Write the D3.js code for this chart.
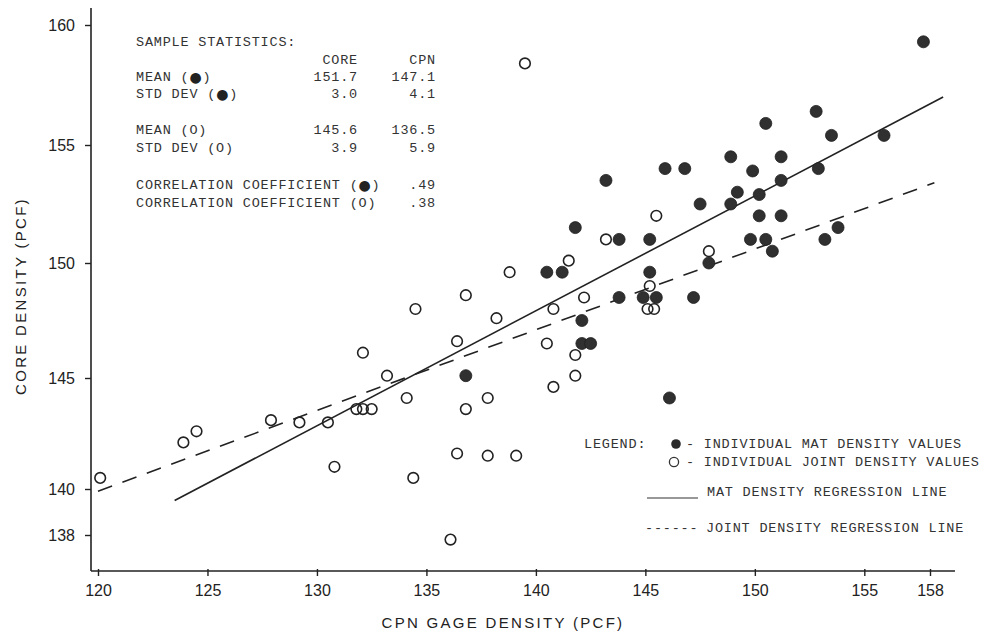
<!DOCTYPE html>
<html><head><meta charset="utf-8">
<script src="https://cdn.jsdelivr.net/npm/d3@7"></script>
<style>body{margin:0;background:#fff} svg{display:block}</style>
</head><body><svg id="c" width="982" height="634"></svg>
<script>
// ---- data ----
const xTicks = [120,125,130,135,140,145,150,155,158];
const yTicks = [138,140,145,150,155,160];
// individual mat density values [CPN, CORE]
const matPoints = [
 [157.7,159.3],[152.8,156.4],[150.5,155.9],[153.5,155.4],[155.9,155.4],
 [148.9,154.5],[151.2,154.5],[145.9,154.0],[146.8,154.0],[149.9,153.9],
 [152.9,154.0],[143.2,153.5],[151.2,153.5],[149.2,153.0],[150.2,152.9],
 [148.9,152.5],[147.5,152.5],[150.2,152.0],[151.2,152.0],[141.8,151.5],
 [143.8,151.0],[145.2,151.0],[149.8,151.0],[150.5,151.0],[153.8,151.5],
 [153.2,151.0],[150.8,150.5],[147.9,150.0],[140.5,149.6],[141.2,149.6],
 [145.2,149.6],[143.8,148.5],[144.9,148.5],[145.5,148.5],[147.2,148.5],
 [142.1,147.5],[142.1,146.5],[142.5,146.5],[136.8,145.1],[146.1,144.1]
];
// individual joint density values [CPN, CORE]
const jointPoints = [
 [120.1,140.5],[123.9,142.1],[124.5,142.6],[127.9,143.1],[129.2,143.0],
 [130.5,143.0],[130.8,141.0],[131.8,143.6],[132.1,143.6],[132.5,143.6],
 [132.1,146.1],[133.2,145.1],[134.1,144.1],[134.4,140.5],[136.1,137.8],
 [134.5,148.0],[136.4,146.6],[136.4,141.6],[136.8,148.6],[136.8,143.6],
 [137.8,144.1],[137.8,141.5],[138.2,147.6],[138.8,149.6],[139.1,141.5],
 [139.5,158.4],[140.5,146.5],[140.8,148.0],[140.8,144.6],[141.5,150.1],
 [141.8,146.0],[141.8,145.1],[142.2,148.5],[143.2,151.0],[145.2,149.0],
 [145.1,148.0],[145.4,148.0],[145.5,152.0],[147.9,150.5]
];
const matLine = [[123.5,139.5],[158.6,157.0]];
const jointLine = [[120.0,139.9],[158.2,153.4]];
const statTitle = "SAMPLE STATISTICS:";
const statColumns = ["CORE","CPN"];
const statLabels = [["MEAN (","\u25CF",")"],["STD DEV (","\u25CF",")"],["MEAN (O)"],["STD DEV (O)"]];
const statCore = ["151.7","3.0","145.6","3.9"];
const statCpn = ["147.1","4.1","136.5","5.9"];
const corrLabels = [["CORRELATION COEFFICIENT (","\u25CF",")"],["CORRELATION COEFFICIENT (O)"]];
const corrValues = [".49",".38"];
const legendItems = ["- INDIVIDUAL MAT DENSITY VALUES","- INDIVIDUAL JOINT DENSITY VALUES",
  "MAT DENSITY REGRESSION LINE","JOINT DENSITY REGRESSION LINE"];
const xTitle = "CPN GAGE DENSITY (PCF)";
const yTitle = "CORE DENSITY (PCF)";

// ---- drawing ----
const svg = d3.select("#c");
const ink = "#222";
const x = d3.scaleLinear().domain([120,158]).range([98,930]);
const y = d3.scaleLinear().domain(yTicks).range([535,489,378,263,145,25]);
const axisX0 = 91, axisY0 = 571;
const tickFont = "'Liberation Sans', Arial, sans-serif";
const mono = "'Liberation Mono', 'Courier New', monospace";

// axes lines
svg.append("line").attr("x1",axisX0).attr("x2",axisX0).attr("y1",8).attr("y2",axisY0)
  .attr("stroke",ink).attr("stroke-width",1.6);
svg.append("line").attr("x1",axisX0).attr("x2",955).attr("y1",axisY0).attr("y2",axisY0)
  .attr("stroke",ink).attr("stroke-width",1.6);

const gy = svg.append("g").attr("transform",`translate(${axisX0},0)`)
  .call(d3.axisLeft(y).tickValues(yTicks).tickSize(6).tickPadding(10).tickFormat(d3.format("d")));
gy.select(".domain").remove();
gy.selectAll("line").attr("stroke",ink).attr("stroke-width",1.4);
gy.selectAll("text").attr("font-family",tickFont).attr("font-size",16).attr("fill",ink);

const gx = svg.append("g").attr("transform",`translate(0,${axisY0})`)
  .call(d3.axisBottom(x).tickValues(xTicks).tickSize(5).tickPadding(9).tickFormat(d3.format("d")));
gx.select(".domain").remove();
gx.selectAll("line").attr("stroke",ink).attr("stroke-width",1.4).attr("y1",-2);
gx.selectAll("text").attr("font-family",tickFont).attr("font-size",16).attr("fill",ink);

// titles
svg.append("text").attr("x",503).attr("y",628).attr("text-anchor","middle")
  .attr("font-family",tickFont).attr("font-size",15).attr("letter-spacing",2.3)
  .attr("fill",ink).text(xTitle);
svg.append("text").attr("transform","translate(26,296) rotate(-90)").attr("text-anchor","middle")
  .attr("font-family",tickFont).attr("font-size",15).attr("letter-spacing",2.3)
  .attr("fill",ink).text(yTitle);

// regression lines
const lineGen = d3.line().x(d=>x(d[0])).y(d=>y(d[1]));
svg.append("path").attr("d",lineGen(matLine)).attr("fill","none")
  .attr("stroke",ink).attr("stroke-width",1.6);
svg.append("path").attr("d",lineGen(jointLine)).attr("fill","none")
  .attr("stroke",ink).attr("stroke-width",1.6).attr("stroke-dasharray","15,11");

// points
svg.append("g").selectAll("circle").data(jointPoints).join("circle")
  .attr("cx",d=>x(d[0])).attr("cy",d=>y(d[1])).attr("r",5.3)
  .attr("fill","none").attr("stroke",ink).attr("stroke-width",1.6);
svg.append("g").selectAll("circle").data(matPoints).join("circle")
  .attr("cx",d=>x(d[0])).attr("cy",d=>y(d[1])).attr("r",6)
  .attr("fill","#303030").attr("stroke","#1e1e1e").attr("stroke-width",0.8);

// stats block
const st = svg.append("g").attr("font-family",mono).attr("font-size",13.5)
  .attr("letter-spacing",0.8).attr("fill","#333");
const txt = (g,t,xx,yy,anchor)=>g.append("text").attr("x",xx).attr("y",yy)
  .attr("dominant-baseline","central").attr("text-anchor",anchor||"start").text(t);
const richTxt = (g,parts,xx,yy)=>{
  const t = g.append("text").attr("x",xx).attr("y",yy).attr("dominant-baseline","central");
  parts.forEach((p,i)=>{
    const s = t.append("tspan").text(p);
    if (p === "\u25CF") s.attr("font-family","'DejaVu Sans', sans-serif").attr("font-size",14).attr("fill","#222");
  });
  return t;
};
txt(st,statTitle,136,42);
txt(st,statColumns[0],358,60,"end");
txt(st,statColumns[1],436,60,"end");
const rowY = [77,94,130,148];
statLabels.forEach((l,i)=>{
  richTxt(st,l,136,rowY[i]);
  txt(st,statCore[i],358,rowY[i],"end");
  txt(st,statCpn[i],436,rowY[i],"end");
});
const corrY = [185,203];
corrLabels.forEach((l,i)=>{
  richTxt(st,l,136,corrY[i]);
  txt(st,corrValues[i],436,corrY[i],"end");
});

// legend
const lg = svg.append("g").attr("font-family",mono).attr("font-size",13.5)
  .attr("letter-spacing",0.8).attr("fill","#333");
txt(lg,"LEGEND:",584,444);
lg.append("circle").attr("cx",676).attr("cy",444).attr("r",4.8).attr("fill","#2a2a2a");
lg.append("circle").attr("cx",674).attr("cy",462).attr("r",4.6).attr("fill","none")
  .attr("stroke","#333").attr("stroke-width",1.3);
txt(lg,legendItems[0],686,444);
txt(lg,legendItems[1],686,462);
lg.append("line").attr("x1",647).attr("x2",698).attr("y1",498).attr("y2",498)
  .attr("stroke","#333").attr("stroke-width",1.2);
txt(lg,legendItems[2],707,492);
txt(lg,"------",645,528);
txt(lg,legendItems[3],706,528);
</script></body></html>
